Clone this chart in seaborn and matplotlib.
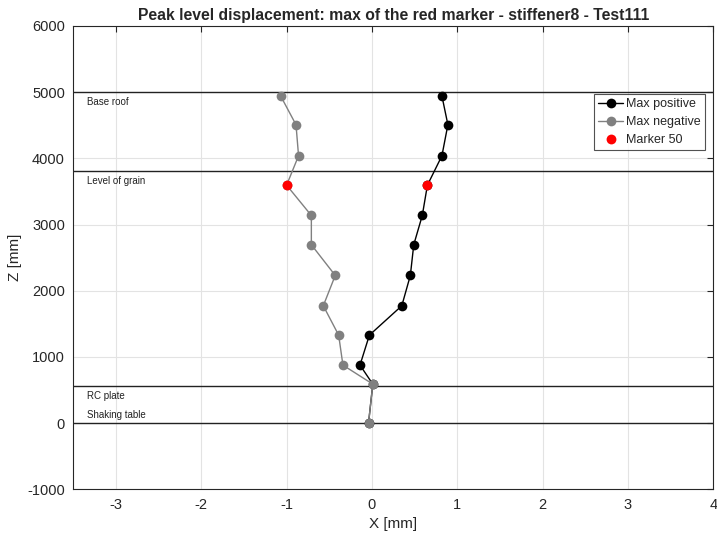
import pandas as pd
import seaborn as sns
import matplotlib.pyplot as plt

# level heights (mm) and peak displacements (mm)
z_levels = [4943, 4508, 4039, 3595, 3137, 2695, 2231, 1773, 1329, 876, 589, 0]
x_pos = [0.82, 0.89, 0.82, 0.65, 0.59, 0.49, 0.45, 0.35, -0.03, -0.14, 0.01, -0.04]
x_neg = [-1.07, -0.89, -0.86, -1.00, -0.71, -0.71, -0.43, -0.57, -0.39, -0.34, 0.01, -0.04]

marker_z = [3595, 3595]
marker_x = [0.65, -1.00]

ref_names = ["Base roof", "Level of grain", "RC plate", "Shaking table"]
ref_z = [5000, 3813, 554, 0]
ref_text_z = [4850, 3655, 410, 120]

sns.set_theme(style="white")
plt.rcParams['font.family'] = ['Liberation Sans', 'DejaVu Sans']
plt.rcParams['axes.unicode_minus'] = False

df = pd.DataFrame({"z": z_levels, "pos": x_pos, "neg": x_neg})

fig = plt.figure(figsize=(7.17, 5.39), dpi=100)
ax = fig.add_axes([0.1022, 0.0922, 0.8926, 0.8596])

for z in ref_z:
    ax.axhline(z, color="#222222", linewidth=1, zorder=2)
for name, zt in zip(ref_names, ref_text_z):
    ax.text(-3.34, zt, name, fontsize=7, va="center", ha="left", color="#222222")

sns.lineplot(data=df, x="pos", y="z", sort=False, estimator=None, color="black",
             marker="o", markersize=7, markeredgewidth=0, linewidth=1,
             label="Max positive", ax=ax, zorder=4)
sns.lineplot(data=df, x="neg", y="z", sort=False, estimator=None, color="#808080",
             marker="o", markersize=7, markeredgewidth=0, linewidth=1,
             label="Max negative", ax=ax, zorder=4)
sns.scatterplot(x=marker_x, y=marker_z, color="red", s=50, linewidth=0,
                label="Marker 50", ax=ax, zorder=5)

ax.set_xlim(-3.5, 4)
ax.set_ylim(-1000, 6000)
ax.set_xticks(range(-3, 5))
ax.set_yticks(range(-1000, 6001, 1000))
ax.grid(True, color="#e3e3e3", linewidth=0.8)
ax.set_axisbelow(True)
ax.tick_params(direction="in", top=True, right=True, length=4, width=0.8,
               labelsize=10.5, colors="#262626", pad=6)
for s in ax.spines.values():
    s.set_color("#262626")
    s.set_linewidth(0.8)

ax.set_xlabel("X [mm]", fontsize=11, labelpad=4)
ax.set_ylabel("Z [mm]", fontsize=11, labelpad=4)
ax.set_title("Peak level displacement: max of the red marker - stiffener8 - Test111",
             fontsize=11.3, fontweight="bold", pad=4)

leg = ax.legend(loc="upper right", bbox_to_anchor=(0.987, 0.853), fontsize=9,
                frameon=True, fancybox=False, edgecolor="#262626",
                handlelength=2, handletextpad=0.2, borderpad=0.35, labelspacing=0.45,
                borderaxespad=0)
leg.get_frame().set_linewidth(0.8)

fig.savefig("out.png", dpi=100)
